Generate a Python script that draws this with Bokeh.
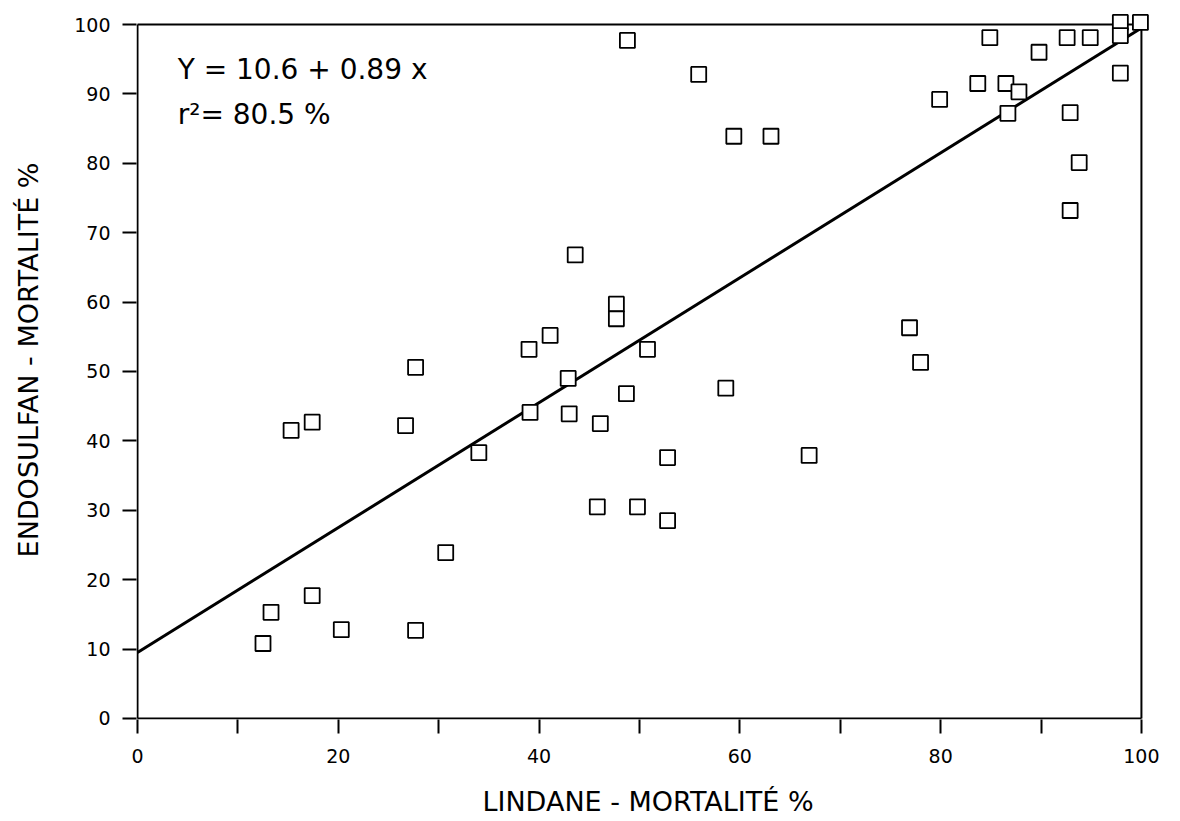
from bokeh.plotting import figure
from bokeh.models import Range1d, FixedTicker, Label
from bokeh.embed import file_html
from bokeh.resources import INLINE

# ---- data ----
lindane = [12.5, 13.3, 15.3, 17.4, 17.4, 20.3, 26.7, 27.7, 27.7, 30.7,
           34.0, 39.0, 39.1, 41.1, 42.9, 43.0, 43.6, 45.8, 46.1, 47.7,
           47.7, 48.8, 48.7, 49.8, 50.8, 52.8, 52.8, 55.9, 58.6, 59.4,
           63.1, 66.9, 76.9, 78.0, 79.9, 83.7, 84.9, 86.5, 86.7, 87.8,
           89.8, 92.6, 92.9, 92.9, 93.8, 94.9, 97.9, 97.9, 97.9, 99.9]
endosulfan = [10.8, 15.3, 41.5, 42.7, 17.7, 12.8, 42.2, 50.6, 12.7, 23.9,
              38.3, 53.2, 44.1, 55.2, 49.0, 43.9, 66.8, 30.5, 42.5, 59.7,
              57.6, 97.7, 46.8, 30.5, 53.2, 37.6, 28.5, 92.8, 47.6, 83.9,
              83.9, 37.9, 56.3, 51.3, 89.2, 91.5, 98.1, 91.5, 87.2, 90.3,
              96.0, 98.1, 87.3, 73.2, 80.1, 98.1, 100.3, 98.4, 93.0, 100.3]

# regression line as drawn
fit_x = [0, 100]
fit_y = [9.5, 99.5]

x_ticks = [0, 10, 20, 30, 40, 50, 60, 70, 80, 90, 100]
x_tick_labels = ["0", "", "20", "", "40", "", "60", "", "80", "", "100"]
y_ticks = [0, 10, 20, 30, 40, 50, 60, 70, 80, 90, 100]

equation_text = "Y = 10.6 + 0.89 x"
r2_text = "r²= 80.5 %"
x_title = "LINDANE - MORTALITÉ %"
y_title = "ENDOSULFAN - MORTALITÉ %"

FONT = "DejaVu Sans"

p = figure(width=1172, height=821,
           x_range=Range1d(-0.1, 101.8), y_range=Range1d(-0.15, 103.46),
           output_backend="svg", toolbar_location=None,
           min_border_left=136, min_border_right=13,
           min_border_top=0, min_border_bottom=102)
p.outline_line_color = None
p.grid.visible = False
p.background_fill_color = "white"
p.border_fill_color = "white"

# axes
for ax in (p.xaxis[0], p.yaxis[0]):
    ax.axis_line_color = None
    ax.major_tick_out = 14
    ax.major_tick_in = 0
    ax.minor_tick_out = 0
    ax.minor_tick_in = 0
    ax.major_tick_line_color = "black"
    ax.major_tick_line_width = 2
    ax.major_label_text_font = FONT
    ax.major_label_text_font_size = "19px"
    ax.major_label_text_color = "black"
    ax.axis_label_text_font = FONT
    ax.axis_label_text_font_style = "normal"
    ax.axis_label_text_font_size = "27px"
    ax.axis_label_text_color = "black"

p.xaxis.ticker = FixedTicker(ticks=x_ticks, minor_ticks=[])
p.xaxis.major_label_overrides = {t: lab for t, lab in zip(x_ticks, x_tick_labels)}
p.yaxis.ticker = FixedTicker(ticks=y_ticks, minor_ticks=[])
p.xaxis.axis_label = x_title
p.yaxis.axis_label = y_title
p.xaxis.major_label_standoff = 15
p.yaxis.major_label_standoff = 12
p.xaxis.axis_label_standoff = 20
p.yaxis.axis_label_standoff = 27

# frame box drawn from the axis limits
xlo, xhi = x_ticks[0], x_ticks[-1]
ylo, yhi = y_ticks[0], y_ticks[-1]
p.segment(x0=[xlo, xlo, xhi, xlo], y0=[ylo, ylo, ylo, yhi],
          x1=[xhi, xlo, xhi, xhi], y1=[ylo, yhi, yhi, yhi],
          line_color="black", line_width=2)

# regression line
p.line(fit_x, fit_y, line_color="black", line_width=3)

# points
p.scatter(lindane, endosulfan, marker="square", size=15,
          fill_color="white", fill_alpha=1.0, line_color="black", line_width=1.8)

p.add_layout(Label(x=4.0, y=91.2, text=equation_text, text_font=FONT,
                   text_font_size="28px", text_color="black"))
p.add_layout(Label(x=4.0, y=84.7, text=r2_text, text_font=FONT,
                   text_font_size="28px", text_color="black"))

open("out.html", "w").write(file_html(p, INLINE))
